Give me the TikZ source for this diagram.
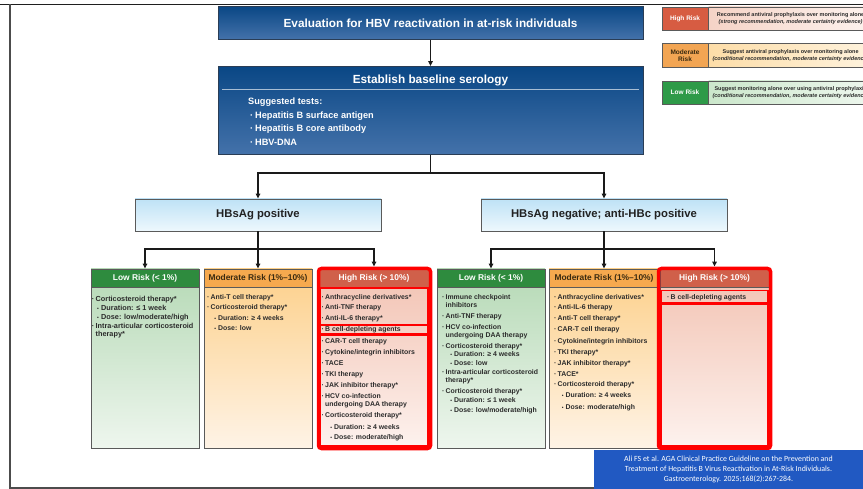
\documentclass[tikz,border=0pt]{standalone}
\usepackage{fontspec}
\setmainfont{Liberation Sans}
\newfontfamily\citefont{Carlito}
\usetikzlibrary{arrows.meta}
\definecolor{linec}{HTML}{1A1A1A}
\definecolor{grayb}{HTML}{5A5A5A}
\definecolor{itext}{HTML}{2B2B2B}
\definecolor{bluetop}{HTML}{0A4785}
\definecolor{bluebot}{HTML}{4472AA}
\definecolor{blueborder}{HTML}{2A3D55}
\definecolor{hbtop}{HTML}{BEE2F6}
\definecolor{hbbot}{HTML}{EEF8FD}
\definecolor{hbtext}{HTML}{222222}
\definecolor{lowhead}{HTML}{2E8B3E}
\definecolor{lowtop}{HTML}{B5D9B5}
\definecolor{lowbot}{HTML}{EEF6EE}
\definecolor{modhead}{HTML}{F6A94E}
\definecolor{modtext}{HTML}{3A2A10}
\definecolor{modtop}{HTML}{FDD08A}
\definecolor{modbot}{HTML}{FEF3E6}
\definecolor{highhead}{HTML}{D0604A}
\definecolor{hightop}{HTML}{F2C2B2}
\definecolor{highbot}{HTML}{FDF2EE}
\definecolor{citeblue}{HTML}{2159C2}
\definecolor{lgHL}{HTML}{F5D3C6}
\definecolor{lgHR}{HTML}{FDF3EF}
\definecolor{lgML}{HTML}{FDDDA8}
\definecolor{lgMR}{HTML}{FEF3DE}
\definecolor{lgLL}{HTML}{CBE7CB}
\definecolor{lgLR}{HTML}{EEF7EE}
\definecolor{lgHd}{HTML}{D75C42}
\definecolor{lgMd}{HTML}{F2A553}
\definecolor{lgLd}{HTML}{2E9A48}
\newcommand\mi[4]{\node[itm] (#1) at ({#2},{#3+2.3}) {\llap{·\hspace{1.4pt}}#4};}
\newcommand\si[4]{\node[itm] (#1) at ({#2},{#3+2.3}) {\llap{{\fontsize{5}{5}\selectfont •}\hspace{2.2pt}}#4};}
\newcommand\ci[4]{\node[itm] (#1) at ({#2},{#3+2.3}) {#4};}
\tikzset{
  ln/.style={draw=linec, line width=1.3},
  arr/.style={ln, -{Triangle[length=5pt,width=4.5pt]}},
  bluebox/.style={draw=blueborder, line width=0.8, top color=bluetop, bottom color=bluebot, inner sep=0, text=white},
  hbbox/.style={draw=grayb, line width=0.8, top color=hbtop, bottom color=hbbot, minimum width=246, minimum height=32, inner sep=0, font=\fontsize{11.3}{13}\selectfont\bfseries, text=hbtext},
  rbox/.style={draw=grayb, line width=0.8, minimum height=179, inner sep=0},
  rhead/.style={draw=grayb, line width=0.8, minimum height=18, inner sep=0, anchor=north, font=\fontsize{8.4}{10}\selectfont\bfseries},
  itm/.style={anchor=base west, inner sep=0, font=\fontsize{6.9}{8}\selectfont\bfseries, text=itext},
  redhl/.style={draw=red, line width=1.5},
  redouter/.style={draw=red, line width=3.5, rounded corners=3},
  lglab/.style={draw=grayb, line width=0.6, minimum width=46, inner sep=0, align=center, font=\fontsize{6.5}{6.8}\selectfont\bfseries},
  lgtxt/.style={draw=grayb, line width=0.6, minimum width=164, inner sep=0, anchor=west, align=center, font=\fontsize{5.5}{6.2}\selectfont\bfseries, text=itext},
}
\begin{document}
\begin{tikzpicture}[x=1pt,y=-1pt]
\useasboundingbox (0,0) rectangle (863,489);
\clip (0,0) rectangle (863,489);
\fill[white] (0,0) rectangle (863,489);
% frame
\draw[black!88, line width=1.8] (0,4.5) -- (863,4.5);
\draw[black!70, line width=1.1] (10,4.5) -- (10,488) -- (594,488);

% title and serology
\node[bluebox, minimum width=425, minimum height=33, font=\fontsize{11.8}{14}\selectfont\bfseries] (title) at (430.5,23) {Evaluation for HBV reactivation in at-risk individuals};
\node[bluebox, minimum width=425, minimum height=88] (sero) at (430.5,110.5) {};
\node[text=white, inner sep=0, font=\fontsize{11.8}{14}\selectfont\bfseries] (serot) at (430.5,80) {Establish baseline serology};
\draw[white!65!bluetop, line width=0.6] (222,89.5) -- (639,89.5);
\begin{scope}[every node/.style={anchor=base west, inner sep=0, text=white, font=\fontsize{9.2}{11}\selectfont\bfseries}]
\node (st0) at (248,105) {Suggested tests:};
\node (st1) at (255,118.6) {\llap{·\hspace{2pt}}Hepatitis B surface antigen};
\node (st2) at (255,131.8) {\llap{·\hspace{2pt}}Hepatitis B core antibody};
\node (st3) at (255,145.4) {\llap{·\hspace{2pt}}HBV-DNA};
\end{scope}

% HBsAg boxes
\node[hbbox] (pos) at (258,215) {HBsAg positive};
\node[hbbox] (neg) at (604,215) {HBsAg negative; anti-HBc positive};

% risk boxes
\node[rbox, minimum width=108, top color=lowtop, bottom color=lowbot] (LL) at (145,358.5) {};
\node[rhead, minimum width=108, fill=lowhead, text=white] (LLh) at (LL.north) {Low Risk (< 1\%)};
\node[rbox, minimum width=108, top color=modtop, bottom color=modbot] (LM) at (258,358.5) {};
\node[rhead, minimum width=108, fill=modhead, text=modtext] (LMh) at (LM.north) {Moderate Risk (1\%--10\%)};
\node[rbox, minimum width=110, top color=hightop, bottom color=highbot] (LH) at (374,358.5) {};
\node[rhead, minimum width=110, fill=highhead, text=white] (LHh) at (LH.north) {High Risk (> 10\%)};
\node[rbox, minimum width=108, top color=lowtop, bottom color=lowbot] (RL) at (491,358.5) {};
\node[rhead, minimum width=108, fill=lowhead, text=white] (RLh) at (RL.north) {Low Risk (< 1\%)};
\node[rbox, minimum width=110, top color=modtop, bottom color=modbot] (RM) at (604,358.5) {};
\node[rhead, minimum width=110, fill=modhead, text=modtext] (RMh) at (RM.north) {Moderate Risk (1\%--10\%)};
\node[rbox, minimum width=109, top color=hightop, bottom color=highbot] (RH) at (714.5,358.5) {};
\node[rhead, minimum width=109, fill=highhead, text=white] (RHh) at (RH.north) {High Risk (> 10\%)};

% connectors
\draw[arr] (title) -- (sero);
\coordinate (j1) at (430.5,173);
\draw[ln] (sero.south) -- (j1);
\draw[arr] (j1) -| (pos.north);
\draw[arr] (j1) -| (neg.north);
\coordinate (j2) at (258,249);
\coordinate (j3) at (604,249);
\draw[ln] (pos.south) -- (j2);
\draw[ln] (neg.south) -- (j3);
\draw[arr] (j2) -| (LL.north);
\draw[arr] (j2) -- (LM.north);
\draw[arr] (j2) -| ([yshift=2pt]LH.north);
\draw[arr] (j3) -| (RL.north);
\draw[arr] (j3) -- (RM.north);
\draw[arr] (j3) -| ([yshift=2pt]RH.north);

% items
\begin{scope}[itm/.append style={font=\fontsize{7.3}{8}\selectfont\bfseries}]
\mi{LL1}{95.5}{299}{Corticosteroid therapy*}
\si{LL2}{101}{308.3}{Duration: ≤ 1 week}
\si{LL3}{101}{317.7}{Dose: low/moderate/high}
\mi{LL4}{95.5}{326.3}{Intra-articular corticosteroid}
\ci{LL5}{95.5}{334.3}{therapy*}
\end{scope}

\mi{LM1}{210.5}{297.3}{Anti-T cell therapy*}
\mi{LM2}{210.5}{307.7}{Corticosteroid therapy*}
\si{LM3}{218}{318.3}{Duration: ≥ 4 weeks}
\si{LM4}{218}{328.3}{Dose: low}

\mi{LH1}{325}{297.3}{Anthracycline derivatives*}
\mi{LH2}{325}{307.7}{Anti-TNF therapy}
\mi{LH3}{325}{318.3}{Anti-IL-6 therapy*}
\mi{LH4}{325}{329.3}{B cell-depleting agents}
\mi{LH5}{325}{341}{CAR-T cell therapy}
\mi{LH6}{325}{352.3}{Cytokine/integrin inhibitors}
\mi{LH7}{325}{363.3}{TACE}
\mi{LH8}{325}{374}{TKI therapy}
\mi{LH9}{325}{385}{JAK inhibitor therapy*}
\mi{LH10}{325}{395.7}{HCV co-infection}
\ci{LH11}{325}{404.3}{undergoing DAA therapy}
\mi{LH12}{325}{415}{Corticosteroid therapy*}
\si{LH13}{334}{426.7}{Duration: ≥ 4 weeks}
\si{LH14}{334}{437.3}{Dose: moderate/high}

\mi{RL1}{445.5}{297.3}{Immune checkpoint}
\ci{RL2}{445.5}{305}{inhibitors}
\mi{RL3}{445.5}{316}{Anti-TNF therapy}
\mi{RL4}{445.5}{327}{HCV co-infection}
\ci{RL5}{445.5}{335.3}{undergoing DAA therapy}
\mi{RL6}{445.5}{346}{Corticosteroid therapy*}
\si{RL7}{454}{354.3}{Duration: ≥ 4 weeks}
\si{RL8}{454}{363.3}{Dose: low}
\mi{RL9}{445.5}{372.3}{Intra-articular corticosteroid}
\ci{RL10}{445.5}{380}{therapy*}
\mi{RL11}{445.5}{390.7}{Corticosteroid therapy*}
\si{RL12}{454}{400}{Duration: ≤ 1 week}
\si{RL13}{454}{410}{Dose: low/moderate/high}

\mi{RM1}{557.5}{297.3}{Anthracycline derivatives*}
\mi{RM2}{557.5}{307.7}{Anti-IL-6 therapy}
\mi{RM3}{557.5}{318.3}{Anti-T cell therapy*}
\mi{RM4}{557.5}{329.3}{CAR-T cell therapy}
\mi{RM5}{557.5}{341}{Cytokine/integrin inhibitors}
\mi{RM6}{557.5}{352.3}{TKI therapy*}
\mi{RM7}{557.5}{363.3}{JAK inhibitor therapy*}
\mi{RM8}{557.5}{374}{TACE*}
\mi{RM9}{557.5}{384.3}{Corticosteroid therapy*}
\si{RM10}{565.5}{395}{Duration: ≥ 4 weeks}
\si{RM11}{565.5}{406.7}{Dose: moderate/high}

\mi{RH1}{670.5}{297.3}{B cell-depleting agents}

% red highlights
\draw[redhl] (320,288) rectangle (428,324.5);
\draw[redhl] (320,325.5) rectangle (428,334);
\draw[redhl] (320,335.5) rectangle (428,446);
\draw[redouter] (318.5,268.5) rectangle (430.5,448.5);
\draw[redhl] (661,290.5) rectangle (768,303);
\draw[redhl] (661,304.5) rectangle (768,446);
\draw[redouter] (658.5,268.5) rectangle (770.5,448.5);

% legend
\node[lglab, minimum height=23, fill=lgHd, text=white] (lgH) at (685,18.5) {High Risk};
\node[lgtxt, minimum height=23, left color=lgHL, right color=lgHR] (lgHt) at (lgH.east) {Recommend antiviral prophylaxis over monitoring alone\\\itshape (strong recommendation, moderate certainty evidence)};
\node[lglab, minimum height=24, fill=lgMd, text=modtext] (lgM) at (685,55.5) {Moderate\\Risk};
\node[lgtxt, minimum height=24, left color=lgML, right color=lgMR] (lgMt) at (lgM.east) {Suggest antiviral prophylaxis over monitoring alone\\\itshape (conditional recommendation, moderate certainty evidence)};
\node[lglab, minimum height=23, fill=lgLd, text=white] (lgL) at (685,92.5) {Low Risk};
\node[lgtxt, minimum height=23, left color=lgLL, right color=lgLR] (lgLt) at (lgL.east) {Suggest monitoring alone over using antiviral prophylaxis\\\itshape (conditional recommendation, moderate certainty evidence)};

% citation
\node[fill=citeblue, minimum width=269, minimum height=39, inner sep=0, align=center, text=white, font=\citefont\fontsize{7.9}{9.6}\selectfont] (cite) at (728.5,469.5) {Ali FS et al. AGA Clinical Practice Guideline on the Prevention and\\Treatment of Hepatitis B Virus Reactivation in At-Risk Individuals.\\Gastroenterology. 2025;168(2):267-284.};
\end{tikzpicture}
\end{document}
